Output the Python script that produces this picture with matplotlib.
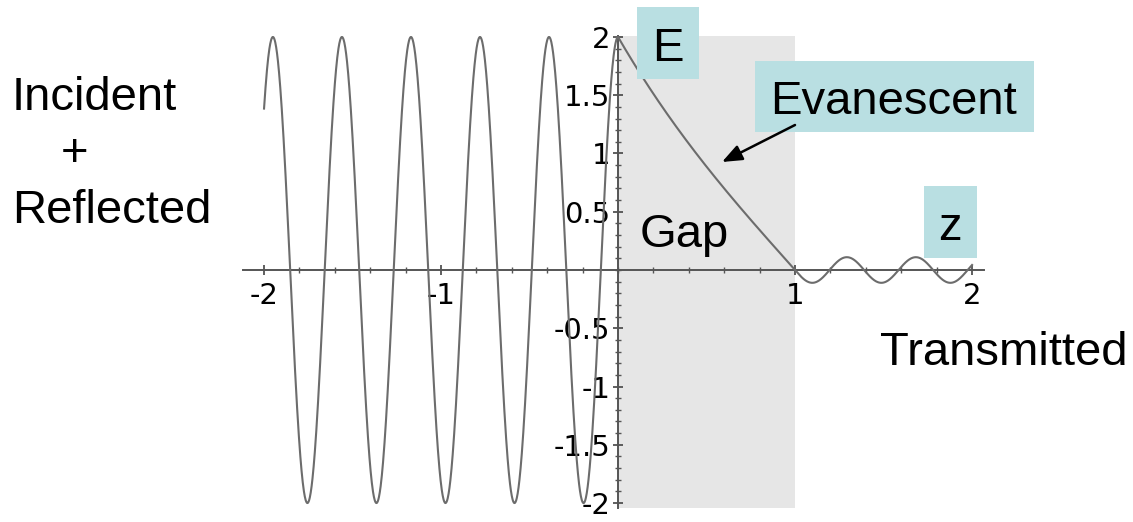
import numpy as np
import matplotlib.pyplot as plt
from matplotlib.patches import Rectangle, FancyArrowPatch
from matplotlib.ticker import FixedLocator, MultipleLocator

# values
wavelength = 0.39        # peak to peak, same on both sides of the gap
amp_incident = 2.0       # incident + reflected standing wave
amp_transmitted = 0.11   # transmitted wave after the gap
decay = 1.0              # evanescent decay constant inside the gap
gap = [0.0, 1.0]
z_left = [-2.0, 0.0]
z_right = [1.0, 2.0]

x_ticks = [-2, -1, 1, 2]
x_tick_labels = ["-2", "-1", "1", "2"]
y_ticks = [2, 1.5, 1, 0.5, -0.5, -1, -1.5, -2]
y_tick_labels = ["2", "1.5", "1", "0.5", "-0.5", "-1", "-1.5", "-2"]

plt.rcParams['font.family'] = ['Liberation Sans', 'DejaVu Sans']
plt.rcParams['axes.unicode_minus'] = False

W, H = 1133, 522

def fx(px):
    return px / W

def fy(py):
    return 1 - py / H

# field in the three regions
k = 2 * np.pi / wavelength
z1 = np.linspace(z_left[0], z_left[1], 1200)
e1 = amp_incident * np.cos(k * z1)
z2 = np.linspace(gap[0], gap[1], 300)
e2 = amp_incident * np.sinh(decay * (gap[1] - z2)) / np.sinh(decay * (gap[1] - gap[0]))
z3 = np.linspace(z_right[0], z_right[1], 600)
e3 = -amp_transmitted * np.sin(k * (z3 - gap[1]))
z = np.concatenate([z1, z2, z3])
e = np.concatenate([e1, e2, e3])

fig = plt.figure(figsize=(W / 100, H / 100), dpi=100)
ax = fig.add_axes([0.2143, 0.0274, 0.6546, 0.904])
ax.set_xlim(-2.12, 2.07)
ax.set_ylim(-2.04, 2.01)

ax.axvspan(gap[0], gap[1], color='#e6e6e6', lw=0, zorder=0)
ax.plot(z, e, color='#6c6c6c', lw=1.5, zorder=3)

# axes through the origin, Mathematica style
for side in ['top', 'right']:
    ax.spines[side].set_visible(False)
ax.spines['left'].set_position(('data', 0))
ax.spines['bottom'].set_position(('data', 0))
for side in ['left', 'bottom']:
    ax.spines[side].set_color('#555555')
    ax.spines[side].set_linewidth(1.4)
    ax.spines[side].set_zorder(2)

ax.xaxis.set_major_locator(FixedLocator(x_ticks))
ax.set_xticklabels(x_tick_labels)
ax.yaxis.set_major_locator(FixedLocator(y_ticks))
ax.set_yticklabels(y_tick_labels)
ax.xaxis.set_minor_locator(MultipleLocator(0.2))
ax.yaxis.set_minor_locator(MultipleLocator(0.1))
ax.tick_params(which='major', direction='inout', length=7, width=1.2,
               color='#444444', labelsize=21, labelfontfamily='DejaVu Sans')
ax.tick_params(which='minor', direction='inout', length=4, width=1.0, color='#555555')
ax.tick_params(axis='x', which='major', pad=5)
ax.tick_params(axis='y', which='major', pad=2)

# labels
big = 34
fig.text(fx(12), fy(110), "Incident", fontsize=big, va='baseline', ha='left')
fig.text(fx(75), fy(166), "+", fontsize=big, va='baseline', ha='center')
fig.text(fx(12), fy(223), "Reflected", fontsize=big, va='baseline', ha='left')
fig.text(fx(880), fy(365), "Transmitted", fontsize=big, va='baseline', ha='left')
fig.text(fx(640), fy(247), "Gap", fontsize=big, va='baseline', ha='left', zorder=5)

# light blue label boxes
boxes = [((637, 7, 699, 79), "E", 668, 61),
         ((755, 61, 1034, 132), "Evanescent", 894, 114),
         ((924, 186, 977, 258), "z", 950, 240)]
for (x0, y0, x1, y1), txt, tx, ty in boxes:
    fig.patches.append(Rectangle((fx(x0), fy(y1)), fx(x1) - fx(x0), fy(y0) - fy(y1),
                                 transform=fig.transFigure, facecolor='#b9dfe2',
                                 edgecolor='none', zorder=4))
    fig.text(fx(tx), fy(ty), txt, fontsize=big, va='baseline', ha='center', zorder=5)

# arrow from the Evanescent box to the curve, on top of the box
arrow = FancyArrowPatch((fx(795), fy(125)), (fx(722), fy(162)),
                        transform=fig.transFigure,
                        arrowstyle='-|>,head_length=0.55,head_width=0.22',
                        mutation_scale=22, color='black', lw=1.8,
                        shrinkA=0, shrinkB=0, zorder=6)
fig.patches.append(arrow)

plt.savefig('out.png', dpi=100)
plt.close()
